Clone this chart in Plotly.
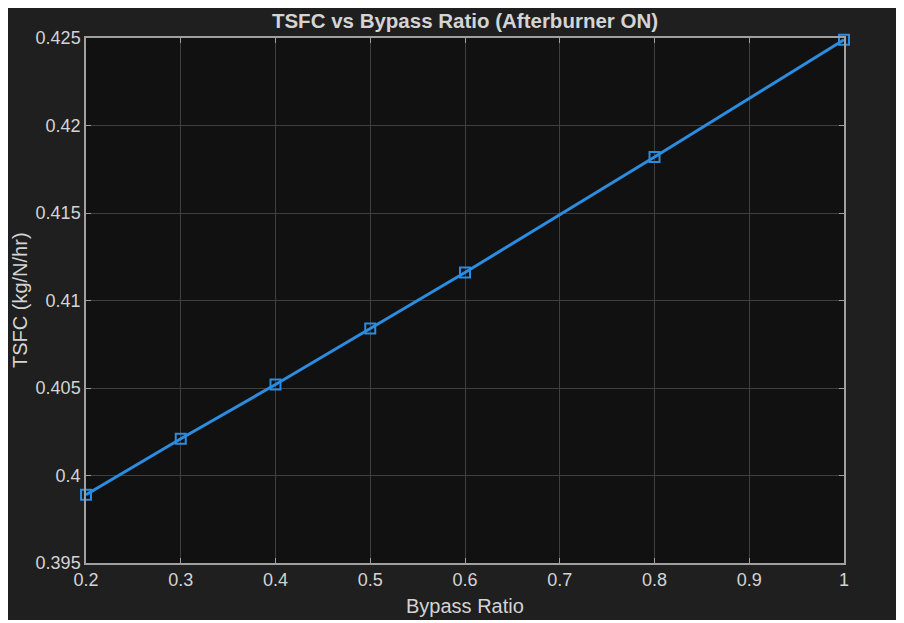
import plotly.graph_objects as go

bypass_ratio = [0.2, 0.3, 0.4, 0.5, 0.6, 0.8, 1.0]
tsfc = [0.3989, 0.4021, 0.4052, 0.4084, 0.4116, 0.4182, 0.4249]

x_ticks = [0.2, 0.3, 0.4, 0.5, 0.6, 0.7, 0.8, 0.9, 1.0]
x_tick_labels = ["0.2", "0.3", "0.4", "0.5", "0.6", "0.7", "0.8", "0.9", "1"]
y_ticks = [0.395, 0.4, 0.405, 0.41, 0.415, 0.42, 0.425]
y_tick_labels = ["0.395", "0.4", "0.405", "0.41", "0.415", "0.42", "0.425"]

title = "TSFC vs Bypass Ratio (Afterburner ON)"
x_title = "Bypass Ratio"
y_title = "TSFC (kg/N/hr)"

FONT = "Liberation Sans, Arial, sans-serif"
TXT = "#d4d4d4"

fig = go.Figure()
fig.add_trace(go.Scatter(
    x=bypass_ratio, y=tsfc, mode="lines+markers",
    line=dict(color="#2b8ce0", width=3),
    marker=dict(symbol="square-open", size=10, color="#2b8ce0", line=dict(width=2)),
    showlegend=False, cliponaxis=False,
))

W, H = 888, 612
L, R, T, B = 78, 52, 30, 57
pw, ph = W - L - R, H - T - B

def px(xp):
    return (xp - L) / pw

def py(yp):
    return (H - B - yp) / ph

axis_common = dict(
    showgrid=True, gridcolor="#3f3f3f", gridwidth=1,
    showline=True, linecolor="#a0a0a0", linewidth=1.5, mirror="ticks",
    ticks="inside", ticklen=5, tickcolor="#a0a0a0",
    tickfont=dict(family=FONT, size=18, color=TXT),
    zeroline=False,
)

fig.update_layout(
    width=W, height=H,
    margin=dict(l=L, r=R, t=T, b=B),
    paper_bgcolor="#1f1f1f", plot_bgcolor="#111111",
    title=dict(text="<b>" + title + "</b>", xref="paper", x=0.5, xanchor="center",
               y=1 - 13 / H, yanchor="middle",
               font=dict(family=FONT, size=20.5, color=TXT)),
    xaxis=dict(axis_common, range=[0.2, 1.0], tickvals=x_ticks, ticktext=x_tick_labels),
    yaxis=dict(axis_common, range=[0.395, 0.425], tickvals=y_ticks, ticktext=y_tick_labels),
    annotations=[
        dict(text=x_title, xref="paper", yref="paper", x=0.5, y=py(598),
             xanchor="center", yanchor="middle", showarrow=False,
             font=dict(family=FONT, size=20, color=TXT)),
        dict(text=y_title, xref="paper", yref="paper", x=px(12), y=py(292),
             xanchor="center", yanchor="middle", showarrow=False, textangle=-90,
             font=dict(family=FONT, size=20, color=TXT)),
    ],
)

fig.write_html("out.html")
